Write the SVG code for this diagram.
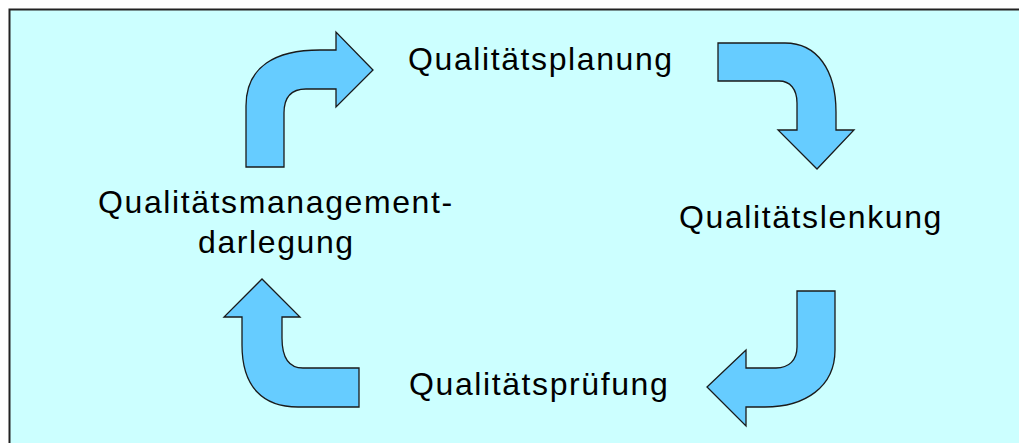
<svg xmlns="http://www.w3.org/2000/svg" width="1019" height="443" viewBox="0 0 1019 443">
<style>
.arr{fill:#66CCFF;stroke:#1a1a1a;stroke-width:1.3;stroke-linejoin:miter}
.lbl{font-family:"Liberation Sans",Arial,sans-serif;font-size:32px;letter-spacing:1.6px;fill:#000}
</style>
<rect x="0" y="0" width="1019" height="443" fill="#FFFFFF"/>
<rect x="9.5" y="9.5" width="1030" height="450" fill="#CCFFFF" stroke="#222" stroke-width="2"/>
<g id="connectors">
<path id="arrow-top-left" class="arr" d="M246,167 L246,106 C246,66 276,50 320,50 L336,50 L336,32 L373,70 L336,107 L336,89 L306,89 C292,89 284,97 284,113 L284,167 Z"/>
<path id="arrow-top-right" class="arr" d="M718,43 L785,43 C817,43 836,70 836,112 L836,130 L854,130 L817,169 L778,130 L797,130 L797,103 C797,89 790,81 779,81 L718,81 Z"/>
<path id="arrow-bottom-right" class="arr" d="M797,291 L835,291 L835,350 C835,387 805,407 765,407 L746,407 L746,426 L707,387 L746,350 L746,368 L776,368 C789,368 797,360 797,347 Z"/>
<path id="arrow-bottom-left" class="arr" d="M359,368 L359,407 L298,407 C263,407 242,387 242,345 L242,317 L224,317 L262,279 L300,317 L282,317 L282,338 C282,357 289,368 303,368 Z"/>
</g>
<g id="node-planung"><text class="lbl" x="408" y="70">Qualitätsplanung</text></g>
<g id="node-lenkung"><text class="lbl" x="679" y="228">Qualitätslenkung</text></g>
<g id="node-pruefung"><text class="lbl" x="409" y="395">Qualitätsprüfung</text></g>
<g id="node-darlegung"><text class="lbl" x="98" y="213">Qualitätsmanagement-</text><text class="lbl" x="198" y="253">darlegung</text></g>
</svg>
